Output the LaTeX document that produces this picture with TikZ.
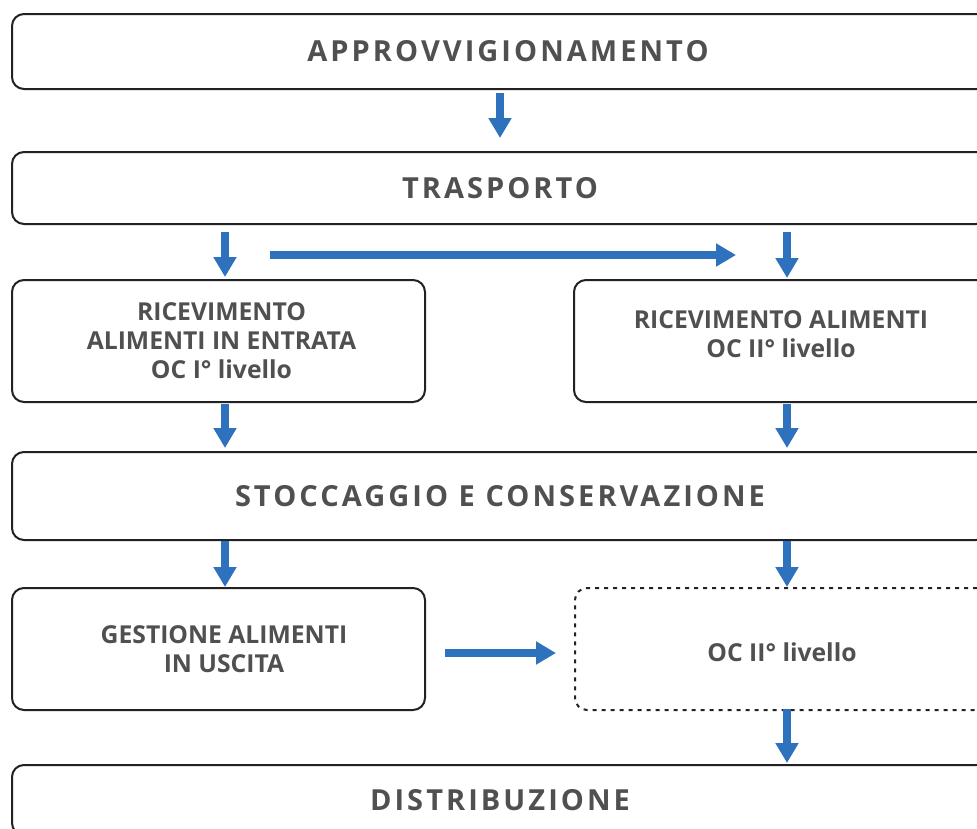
\documentclass[tikz,border=0pt]{standalone}
\usepackage{fontspec}
\setmainfont{Open Sans}
\newfontfamily\titlefont{Open Sans}[LetterSpace=10.5]
\usetikzlibrary{arrows.meta,calc}
\definecolor{txt}{HTML}{505052}
\definecolor{arrblue}{HTML}{2E72BE}
\definecolor{frame}{HTML}{222222}
\begin{document}
\begin{tikzpicture}[x=1pt,y=-1pt,
  smallfont/.style={font=\bfseries\fontsize{24.7}{29}\selectfont},
  box/.style={draw=frame,line width=2pt,rounded corners=12pt,inner sep=0pt,align=center,text=txt,smallfont},
  widebox/.style={box,font=\titlefont\bfseries\fontsize{29}{34}\selectfont},
  dotbox/.style={box,dash pattern=on 4pt off 5pt},
  lbl/.style={align=center,text=txt,smallfont,inner sep=0pt},
  arr/.style={draw=arrblue,line width=8pt,-{Triangle[width=22pt,length=20pt]},arrblue}
]
\useasboundingbox (0,0) rectangle (977,828);
\clip (0,0) rectangle (977,828);
\node[widebox,minimum width=992pt,minimum height=75pt] (ap) at (508,51.5) {APPROVVIGIONAMENTO};
\node[widebox,minimum width=976pt,minimum height=72pt] (tr) at (500,188) {TRASPORTO};
\node[box,minimum width=413pt,minimum height=122pt,
  label={[lbl,name=rlt,xshift=3pt]center:{RICEVIMENTO\\ALIMENTI IN ENTRATA\\OC I° livello}}] (rl) at (218.5,341) {};
\node[box,minimum width=414pt,minimum height=122pt,
  label={[lbl,name=rrt,yshift=6.5pt]center:{RICEVIMENTO ALIMENTI\\OC II° livello}}] (rr) at (781,341) {};
\node[widebox,minimum width=976pt,minimum height=88pt] (st) at (500,496) {STOCCAGGIO E CONSERVAZIONE};
\node[box,minimum width=413pt,minimum height=122pt,
  label={[lbl,name=glt,xshift=5.5pt]center:{GESTIONE ALIMENTI\\IN USCITA}}] (gl) at (218.5,649) {};
\node[dotbox,minimum width=414pt,minimum height=122pt,
  label={[lbl,name=oct,yshift=-3.5pt]center:{OC II° livello}}] (oc) at (782,649) {};
\node[widebox,minimum width=976pt,minimum height=70pt] (di) at (500,800) {DISTRIBUZIONE};
\coordinate (cL) at (225,0);
\coordinate (cR) at (787,0);
\coordinate (cM) at (500,0);
\coordinate (h1s) at (270,255);
\coordinate (h1e) at (736,255);
\draw[arr] ($(ap.south -| cM)+(0,3)$) -- ($(tr.north -| cM)+(0,-13)$);
\draw[arr] ($(tr.south -| cL)+(0,7)$) -- ($(rl.north -| cL)+(0,-2)$);
\draw[arr] ($(tr.south -| cR)+(0,7)$) -- ($(rr.north -| cR)+(0,-1)$);
\draw[arr] (h1s) -- (h1e);
\draw[arr] ($(rl.south -| cL)+(0,1)$) -- ($(st.north -| cL)+(0,-3)$);
\draw[arr] ($(rr.south -| cR)+(0,1)$) -- ($(st.north -| cR)+(0,-3)$);
\draw[arr] ($(st.south -| cL)+(0,0)$) -- ($(gl.north -| cL)+(0,0)$);
\draw[arr] ($(st.south -| cR)+(0,0)$) -- ($(oc.north -| cR)+(0,0)$);
\draw[arr] ($(gl.east)+(19,4)$) -- ($(oc.west)+(-18,4)$);
\draw[arr] ($(oc.south -| cR)+(0,-2)$) -- ($(di.north -| cR)+(0,-1)$);
\end{tikzpicture}
\end{document}
